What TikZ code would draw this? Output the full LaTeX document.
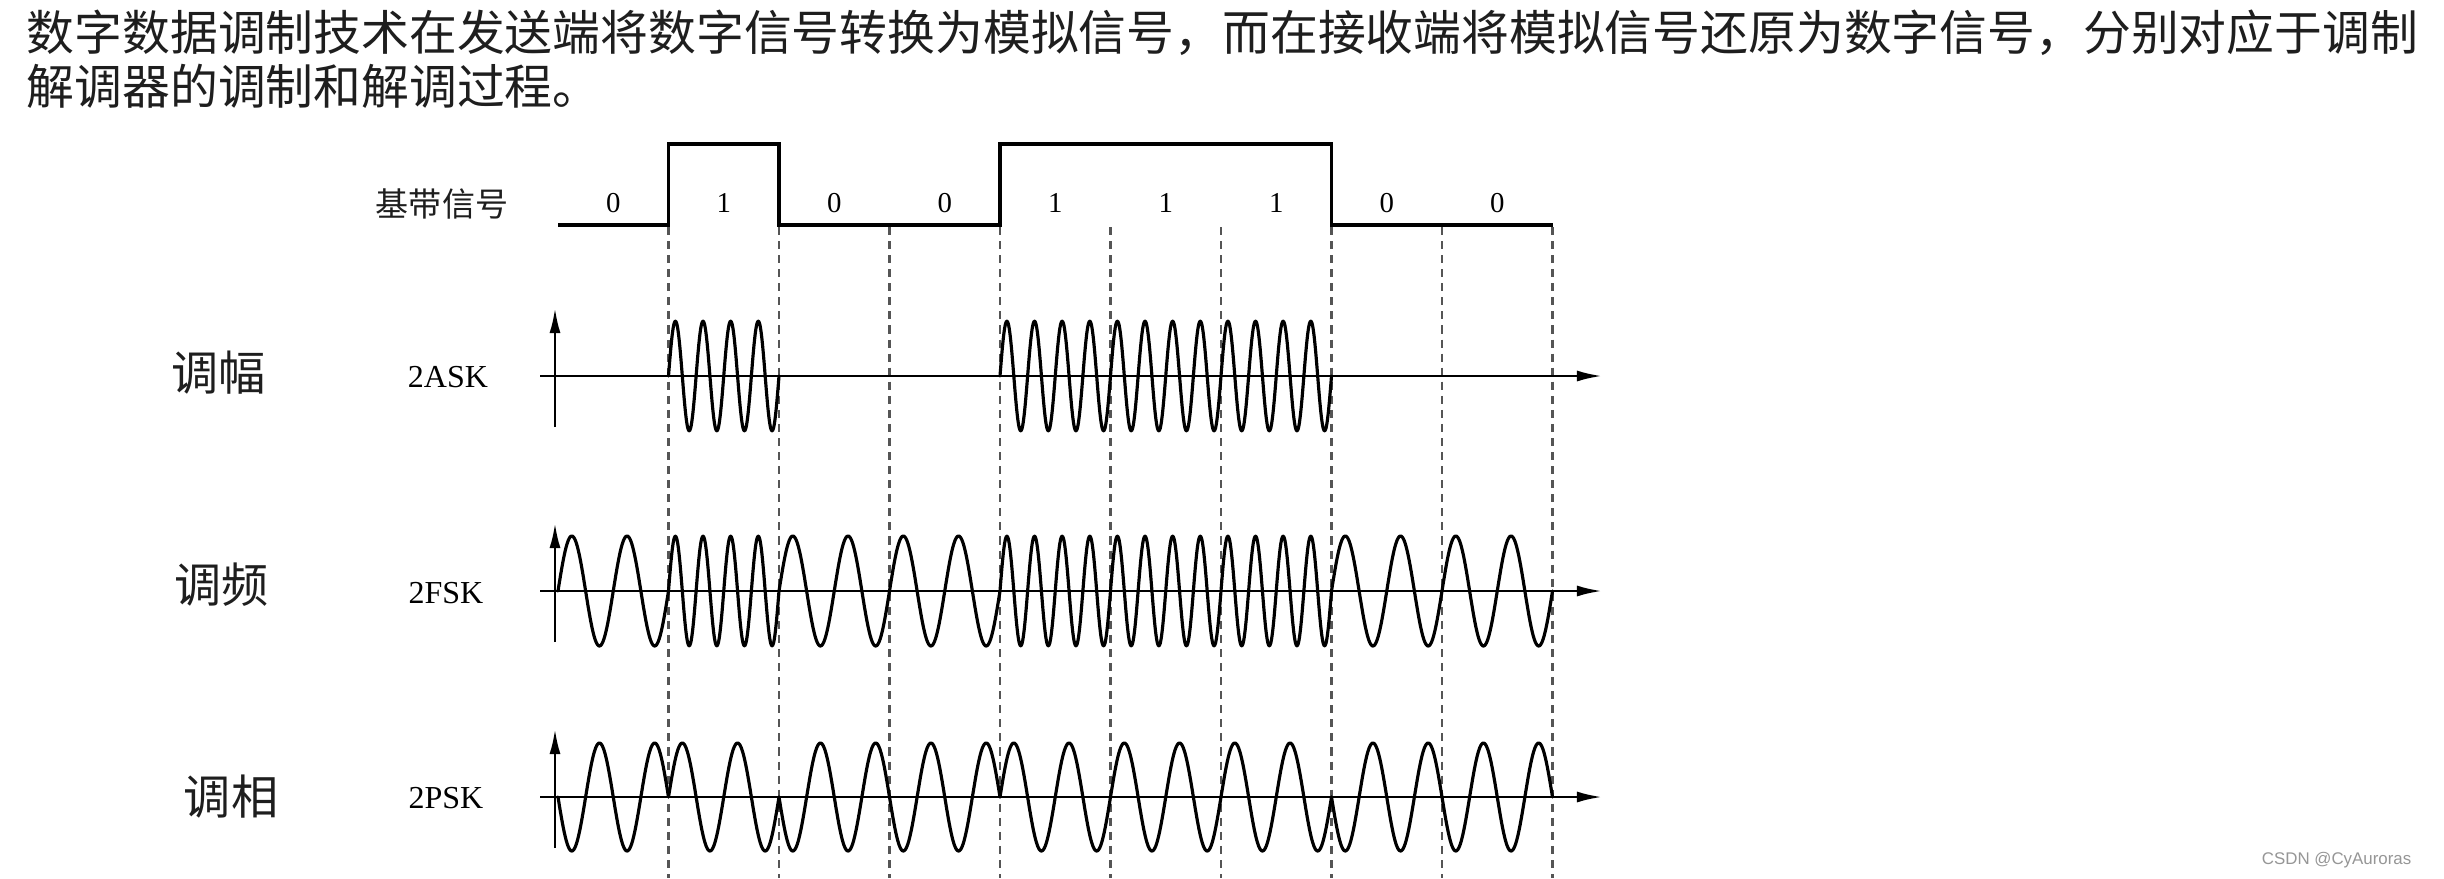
\documentclass[tikz,border=0pt]{standalone}
\usepackage{fontspec}
\setmainfont{Liberation Serif}
\newfontfamily\cjk{Noto Sans CJK SC}
\newfontfamily\wmfont{Liberation Sans}
\usetikzlibrary{arrows.meta}
\definecolor{introgray}{RGB}{30,30,30}
\definecolor{gridgray}{RGB}{85,85,85}
\definecolor{markgray}{RGB}{150,150,150}

\begin{document}
\begin{tikzpicture}[
        x=0.01cm, y=-0.01cm,
        intro/.style={anchor=west, inner sep=0pt, text=introgray, font=\cjk\fontsize{13.6}{13.6}\selectfont},
        modlabel/.style={inner sep=0pt, text=introgray, font=\cjk\fontsize{13.4}{13.4}\selectfont},
        baselabel/.style={inner sep=0pt, text=introgray, font=\cjk\fontsize{9.4}{9.4}\selectfont},
        siglabel/.style={inner sep=0pt, font=\fontsize{9.1}{9.1}\selectfont},
        bitlabel/.style={inner sep=0pt, font=\fontsize{8.2}{8.2}\selectfont},
        axisline/.style={line width=0.75pt, -{Latex[length=2.5mm, width=1.1mm]}},
        carrier/.style={line width=0.9pt, line join=round, line cap=round},
        pulse/.style={line width=1.1pt, line join=miter},
        bitgrid/.style={line width=0.6pt, gridgray, dash pattern=on 2.3pt off 1.7pt}
    ]
        \fill [white] (0,0) rectangle (2444,878);
        \useasboundingbox (0,0) rectangle (2444,878);
        \node [intro] (line1) at (26,33) {数字数据调制技术在发送端将数字信号转换为模拟信号，而在接收端将模拟信号还原为数字信号，分别对应于调制};
        \node [intro] (line2) at (26,86) {解调器的调制和解调过程。};
        \node [baselabel] (base) at (442,204) {基带信号};
        \node [modlabel] (am) at (219,373) {调幅};
        \node [modlabel] (fm) at (222,585) {调频};
        \node [modlabel] (pm) at (231,797) {调相};
        \node [siglabel] (ask) at (448,377) {2ASK};
        \node [siglabel] (fsk) at (446,593) {2FSK};
        \node [siglabel] (psk) at (446,798) {2PSK};
        \foreach \b [count=\i from 0] in {0,1,0,0,1,1,1,0,0} {
            \pgfmathsetmacro{\xs}{558+110.5*\i}
            \pgfmathsetmacro{\xe}{\xs+110.5}
            \node [bitlabel] (bit\i) at (\xs+55.25,203) {\b};
            \draw [bitgrid] (\xe,227) -- (\xe,878);
        }
        \foreach \y in {376,591,797} {
            \draw [axisline] (540,\y) -- (1602,\y);
            \draw [axisline] (555,\y+51) -- (555,\y-68);
        }
        \foreach \b [count=\i from 0] in {0,1,0,0,1,1,1,0,0} {
            \pgfmathsetmacro{\xs}{558+110.5*\i}
            \pgfmathsetmacro{\xe}{\xs+110.5}
            \pgfmathsetmacro{\nf}{2+2*\b}
            \pgfmathsetmacro{\sg}{2*\b-1}
            \ifnum\b=1
                \draw [carrier] plot [domain=\xs:\xe, samples=121, smooth] (\x,{376-55*sin((\x-\xs)/110.5*1440)});
            \fi
            \draw [carrier] plot [domain=\xs:\xe, samples=121, smooth] (\x,{591-55*sin((\x-\xs)/110.5*\nf*360)});
            \draw [carrier] plot [domain=\xs:\xe, samples=121, smooth] (\x,{797-54*\sg*sin((\x-\xs)/110.5*720)});
        }
        \draw [pulse] (558,225) -- (668.5,225) -- (668.5,144) -- (779,144) -- (779,225)
            -- (1000,225) -- (1000,144) -- (1331.5,144) -- (1331.5,225) -- (1552.5,225);
        \node [anchor=east, inner sep=0pt, text=markgray, font=\wmfont\fontsize{4.8}{4.8}\selectfont] (wm) at (2412,860) {CSDN @CyAuroras};
    \end{tikzpicture}
\end{document}
